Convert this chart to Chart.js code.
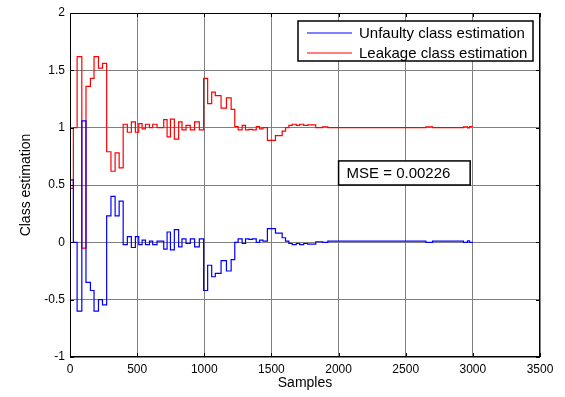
<!DOCTYPE html>
<html>
<head>
<meta charset="utf-8">
<script src="https://cdn.jsdelivr.net/npm/chart.js@4/dist/chart.umd.min.js"></script>
<style>
  html, body { margin: 0; padding: 0; background: #fff; }
</style>
</head>
<body>
<canvas id="chart" width="565" height="397"></canvas>
<script>
        // Data (step starts in samples)
        const stepX = [0, 25, 53, 88, 119, 152, 179, 212, 242, 273, 305, 336, 366, 396, 427, 457, 487,
            512, 537, 562, 592, 616, 648, 673, 698, 723, 748, 777, 809, 834, 864, 896, 928, 963,
            995, 1025, 1055, 1082, 1125, 1165, 1200, 1227, 1252, 1282, 1307, 1332, 1357, 1387, 1412, 1437,
            1470, 1530, 1580, 1605, 1630, 1655, 1685, 1710, 1740, 1770, 1830, 1880, 1920,
            2650, 2700, 2930, 2960, 2975, 3000];

        const unfaulty = [0.545, 0.0, -0.6, 1.06, -0.35, -0.42, -0.6, -0.5, -0.545, 0.23, 0.40, 0.23, 0.36, -0.02, 0.05, -0.045, 0.05,
            -0.02, 0.02, -0.02, 0.01, -0.02, 0.01, 0.01, -0.06, 0.09, -0.065, 0.11, -0.04, 0.03, -0.01, 0.03, -0.04, 0.03,
            -0.42, -0.2, -0.3, -0.27, -0.16, -0.25, -0.15, 0.0, 0.03, -0.01, 0.03, 0.025, 0.03, 0.0, 0.02, 0.01,
            0.12, 0.08, 0.04, 0.01, -0.01, -0.02, -0.01, -0.02, -0.01, -0.015, 0.005, 0.0, 0.01,
            0.0, 0.01, 0.0, 0.012, 0.0, 0.0];

        const leakage = [0.47, 1.0, 1.62, -0.05, 1.36, 1.43, 1.62, 1.52, 1.56, 0.79, 0.62, 0.78, 0.65, 1.03, 0.96, 1.05, 0.96,
            1.035, 0.99, 1.03, 1.0, 1.03, 1.0, 1.0, 1.07, 0.92, 1.075, 0.90, 1.05, 0.98, 1.02, 0.98, 1.05, 0.98,
            1.43, 1.21, 1.31, 1.28, 1.17, 1.26, 1.16, 1.01, 0.98, 1.02, 0.98, 0.985, 0.98, 1.01, 0.99, 1.0,
            0.89, 0.93, 0.97, 1.0, 1.02, 1.03, 1.02, 1.03, 1.02, 1.025, 1.0, 1.008, 1.0,
            1.008, 1.0, 1.008, 0.998, 1.01, 1.01];

        const seriesNames = ['Unfaulty class estimation', 'Leakage class estimation'];
        const xTicks = [0, 500, 1000, 1500, 2000, 2500, 3000, 3500];
        const yTicks = [-1, -0.5, 0, 0.5, 1, 1.5, 2];
        const yTickLabels = ['-1', '-0.5', '0', '0.5', '1', '1.5', '2'];
        const mseLabel = 'MSE = 0.00226';

        const FONT = 'Liberation Sans, Arial, Helvetica, sans-serif';

        const toPoints = (ys) => stepX.map((x, i) => ({ x, y: ys[i] }));

        // frame, inward ticks, legend box and MSE text box
        const matlabDecor = {
            id: 'matlabDecor',
            afterDraw(chart) {
                const { ctx, chartArea: a, scales: { x, y } } = chart;
                ctx.save();
                ctx.strokeStyle = '#000';
                ctx.lineWidth = 1;
                ctx.strokeRect(a.left + 0.5, a.top + 0.5, a.width - 1, a.height - 1);

                ctx.beginPath();
                xTicks.forEach(v => {
                    const px = Math.round(x.getPixelForValue(v)) + 0.5;
                    ctx.moveTo(px, a.bottom); ctx.lineTo(px, a.bottom - 4);
                    ctx.moveTo(px, a.top); ctx.lineTo(px, a.top + 4);
                });
                yTicks.forEach(v => {
                    const py = Math.round(y.getPixelForValue(v)) + 0.5;
                    ctx.moveTo(a.left, py); ctx.lineTo(a.left + 4, py);
                    ctx.moveTo(a.right, py); ctx.lineTo(a.right - 4, py);
                });
                ctx.stroke();

                // legend
                const lx = 298, ly = 21, lw = 235, lh = 40;
                ctx.fillStyle = '#fff';
                ctx.fillRect(lx, ly, lw, lh);
                ctx.lineWidth = 1.5;
                ctx.strokeRect(lx, ly, lw, lh);
                ctx.font = '15px ' + FONT;
                ctx.textBaseline = 'middle';
                chart.data.datasets.forEach((ds, i) => {
                    const yy = ly + 11.5 + i * 20;
                    ctx.strokeStyle = ds.borderColor;
                    ctx.lineWidth = 1;
                    ctx.beginPath();
                    ctx.moveTo(307, yy + 0.5); ctx.lineTo(352, yy + 0.5);
                    ctx.stroke();
                    ctx.fillStyle = '#000';
                    ctx.fillText(ds.label, 359, yy + 1);
                });

                // MSE box, anchored in data space
                const bx0 = x.getPixelForValue(2000), bx1 = x.getPixelForValue(2980);
                const by0 = y.getPixelForValue(0.71), by1 = y.getPixelForValue(0.5);
                ctx.fillStyle = '#fff';
                ctx.fillRect(bx0, by0, bx1 - bx0, by1 - by0);
                ctx.strokeStyle = '#000';
                ctx.lineWidth = 1.5;
                ctx.strokeRect(bx0, by0, bx1 - bx0, by1 - by0);
                ctx.fillStyle = '#000';
                ctx.font = '15px ' + FONT;
                ctx.fillText(mseLabel, bx0 + 8, (by0 + by1) / 2 + 1);
                ctx.restore();
            }
        };

        new Chart(document.getElementById('chart'), {
            type: 'line',
            data: {
                datasets: [
                    { label: seriesNames[0], data: toPoints(unfaulty), borderColor: '#0000ff', borderWidth: 1.2, stepped: true, pointRadius: 0 },
                    { label: seriesNames[1], data: toPoints(leakage), borderColor: '#ff0000', borderWidth: 1.2, stepped: true, pointRadius: 0 }
                ]
            },
            options: {
                responsive: false,
                animation: false,
                devicePixelRatio: 1,
                layout: { padding: { left: 0, top: 13, right: 25, bottom: 0 } },
                plugins: { legend: { display: false }, tooltip: { enabled: false } },
                scales: {
                    x: {
                        type: 'linear', min: 0, max: 3500,
                        afterFit: (s) => { s.height = 40; },
                        afterBuildTicks: (s) => { s.ticks = xTicks.map(v => ({ value: v })); },
                        grid: { color: '#808080', drawTicks: false },
                        border: { display: false },
                        ticks: { color: '#000', padding: 5, maxRotation: 0, font: { family: FONT, size: 12 }, callback: (v) => String(v) },
                        title: { display: true, text: 'Samples', color: '#000', font: { family: FONT, size: 14 }, padding: { top: 0, bottom: 5 } }
                    },
                    y: {
                        min: -1, max: 2,
                        afterFit: (s) => { s.width = 70; },
                        afterBuildTicks: (s) => { s.ticks = yTicks.map(v => ({ value: v })); },
                        grid: { color: '#808080', drawTicks: false },
                        border: { display: false },
                        ticks: { color: '#000', padding: 5, font: { family: FONT, size: 12 }, callback: (v) => yTickLabels[yTicks.indexOf(v)] },
                        title: { display: true, text: 'Class estimation', color: '#000', font: { family: FONT, size: 14 }, padding: { top: 18, bottom: 0 } }
                    }
                }
            },
            plugins: [matlabDecor]
        });
</script>
</body>
</html>
